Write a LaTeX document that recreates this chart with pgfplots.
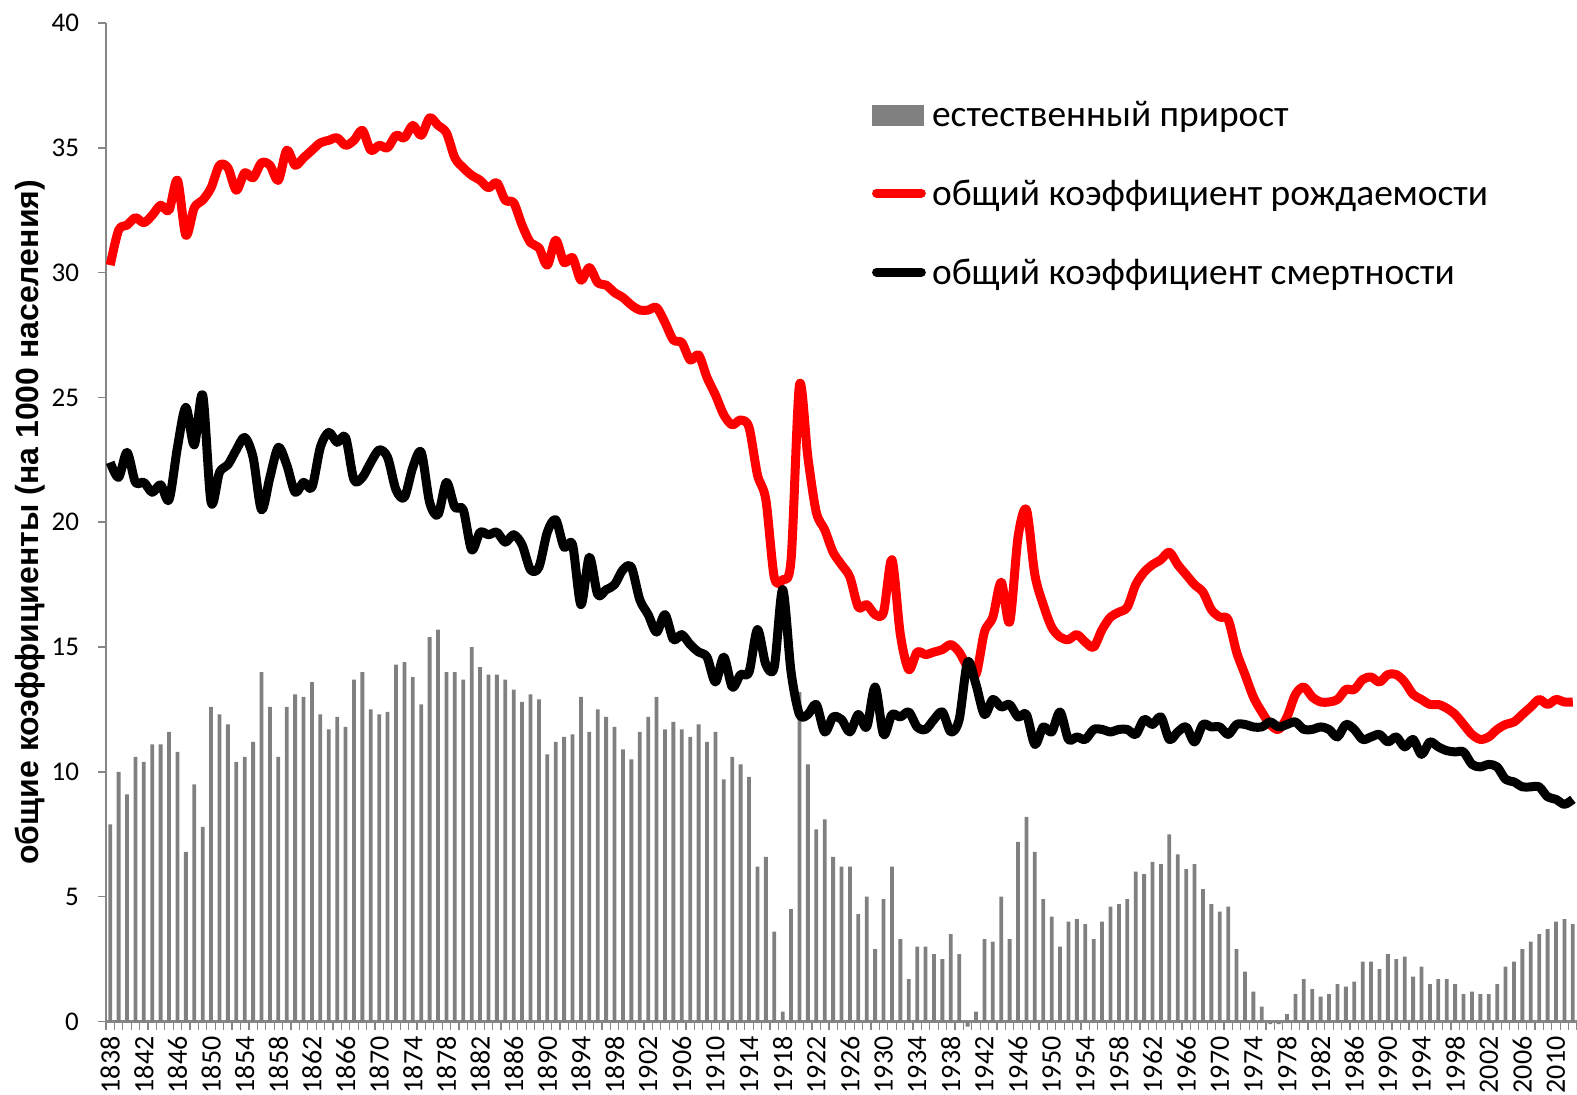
\documentclass[border=0pt]{standalone}
\usepackage{fontspec}
\setmainfont{Carlito}
\newfontfamily\labelfont{Liberation Sans}
\usepackage{pgfplots}
\usepackage{pgfplotstable}
\pgfplotsset{compat=1.18}
\definecolor{bargray}{HTML}{808080}
\definecolor{axgray}{HTML}{868686}
\pgfplotstableread{
year ni br dr
1838 7.9 30.3 22.4
1839 10.0 31.7 21.8
1840 9.1 31.9 22.8
1841 10.6 32.2 21.6
1842 10.4 32.0 21.6
1843 11.1 32.3 21.2
1844 11.1 32.7 21.5
1845 11.6 32.5 20.9
1846 10.8 33.7 23.0
1847 6.8 31.5 24.6
1848 9.5 32.6 23.1
1849 7.8 32.9 25.1
1850 12.6 33.4 20.8
1851 12.3 34.3 22.0
1852 11.9 34.2 22.3
1853 10.4 33.3 22.9
1854 10.6 34.0 23.4
1855 11.2 33.8 22.6
1856 14.0 34.4 20.5
1857 12.6 34.3 21.8
1858 10.6 33.7 23.0
1859 12.6 34.9 22.3
1860 13.1 34.3 21.2
1861 13.0 34.6 21.6
1862 13.6 34.9 21.4
1863 12.3 35.2 23.0
1864 11.7 35.3 23.6
1865 12.2 35.4 23.2
1866 11.8 35.1 23.4
1867 13.7 35.3 21.7
1868 14.0 35.7 21.8
1869 12.5 34.9 22.4
1870 12.3 35.1 22.9
1871 12.4 35.0 22.6
1872 14.3 35.5 21.3
1873 14.4 35.4 21.0
1874 13.8 35.9 22.2
1875 12.7 35.5 22.8
1876 15.4 36.2 20.8
1877 15.7 35.9 20.3
1878 14.0 35.6 21.6
1879 14.0 34.6 20.6
1880 13.7 34.2 20.5
1881 15.0 33.9 18.9
1882 14.2 33.7 19.6
1883 13.9 33.4 19.5
1884 13.9 33.6 19.6
1885 13.7 32.9 19.2
1886 13.3 32.8 19.5
1887 12.8 31.9 19.1
1888 13.1 31.2 18.1
1889 12.9 31.0 18.2
1890 10.7 30.3 19.6
1891 11.2 31.3 20.1
1892 11.4 30.4 19.0
1893 11.5 30.6 19.1
1894 13.0 29.7 16.7
1895 11.6 30.2 18.6
1896 12.5 29.6 17.1
1897 12.2 29.5 17.3
1898 11.8 29.2 17.5
1899 10.9 29.0 18.1
1900 10.5 28.7 18.2
1901 11.6 28.5 16.9
1902 12.2 28.5 16.3
1903 13.0 28.6 15.6
1904 11.7 28.0 16.3
1905 12.0 27.3 15.3
1906 11.7 27.2 15.5
1907 11.4 26.5 15.1
1908 11.9 26.7 14.8
1909 11.2 25.8 14.6
1910 11.6 25.1 13.6
1911 9.7 24.3 14.6
1912 10.6 23.9 13.4
1913 10.3 24.1 13.9
1914 9.8 23.8 14.0
1915 6.2 21.9 15.7
1916 6.6 20.9 14.3
1917 3.6 17.8 14.2
1918 0.4 17.7 17.3
1919 4.5 18.5 14.0
1920 13.2 25.5 12.3
1921 10.3 22.6 12.3
1922 7.7 20.4 12.7
1923 8.1 19.7 11.6
1924 6.6 18.8 12.2
1925 6.2 18.3 12.1
1926 6.2 17.8 11.6
1927 4.3 16.6 12.3
1928 5.0 16.7 11.8
1929 2.9 16.3 13.4
1930 4.9 16.4 11.5
1931 6.2 18.5 12.3
1932 3.3 15.5 12.2
1933 1.7 14.1 12.4
1934 3.0 14.8 11.8
1935 3.0 14.7 11.7
1936 2.7 14.8 12.1
1937 2.5 14.9 12.4
1938 3.5 15.1 11.6
1939 2.7 14.8 12.1
1940 -0.2 14.2 14.4
1941 0.4 13.9 13.5
1942 3.3 15.6 12.3
1943 3.2 16.2 12.9
1944 5.0 17.6 12.6
1945 3.3 16.0 12.7
1946 7.2 19.4 12.2
1947 8.2 20.5 12.3
1948 6.8 17.9 11.1
1949 4.9 16.7 11.8
1950 4.2 15.8 11.6
1951 3.0 15.4 12.4
1952 4.0 15.3 11.3
1953 4.1 15.5 11.4
1954 3.9 15.2 11.3
1955 3.3 15.0 11.7
1956 4.0 15.7 11.7
1957 4.6 16.2 11.6
1958 4.7 16.4 11.7
1959 4.9 16.6 11.7
1960 6.0 17.5 11.5
1961 5.9 18.0 12.1
1962 6.4 18.3 11.9
1963 6.3 18.5 12.2
1964 7.5 18.8 11.3
1965 6.7 18.3 11.6
1966 6.1 17.9 11.8
1967 6.3 17.5 11.2
1968 5.3 17.2 11.9
1969 4.7 16.5 11.8
1970 4.4 16.2 11.8
1971 4.6 16.1 11.5
1972 2.9 14.8 11.9
1973 2.0 13.9 11.9
1974 1.2 13.0 11.8
1975 0.6 12.4 11.8
1976 -0.1 11.9 12.0
1977 -0.1 11.7 11.8
1978 0.3 12.2 11.9
1979 1.1 13.1 12.0
1980 1.7 13.4 11.7
1981 1.3 13.0 11.7
1982 1.0 12.8 11.8
1983 1.1 12.8 11.7
1984 1.5 12.9 11.4
1985 1.4 13.3 11.9
1986 1.6 13.3 11.7
1987 2.4 13.7 11.3
1988 2.4 13.8 11.4
1989 2.1 13.6 11.5
1990 2.7 13.9 11.2
1991 2.5 13.9 11.4
1992 2.6 13.6 11.0
1993 1.8 13.1 11.3
1994 2.2 12.9 10.7
1995 1.5 12.7 11.2
1996 1.7 12.7 11.0
1997 1.7 12.55 10.85
1998 1.5 12.3 10.8
1999 1.1 11.9 10.8
2000 1.2 11.5 10.3
2001 1.1 11.3 10.2
2002 1.1 11.4 10.3
2003 1.5 11.7 10.2
2004 2.2 11.9 9.7
2005 2.4 12.0 9.6
2006 2.9 12.3 9.4
2007 3.2 12.6 9.4
2008 3.5 12.9 9.4
2009 3.7 12.7 9.0
2010 4.0 12.9 8.9
2011 4.1 12.8 8.7
2012 3.9 12.8 8.9
}\data
\begin{document}
\begin{tikzpicture}
\begin{axis}[
  at={(53pt,36.25pt)}, anchor=south west,
  scale only axis, width=735.5pt, height=499.25pt,
  xmin=1837.5, xmax=2012.5, ymin=0, ymax=40,
  clip=false,
  axis x line*=bottom, axis y line*=left,
  axis line style={axgray, line width=1.2pt, -},
  ytick={0,5,...,40},
  xtick={1838,1842,...,2010},
  minor xtick={1837.5,1838.5,...,2012.5},
  major x tick style={draw=none},
  minor x tick style={axgray, line width=0.6pt},
  major y tick style={axgray, line width=0.8pt},
  tick align=outside,
  major tick length=4pt, minor tick length=4pt,
  /pgf/number format/assume math mode=true,
  /pgf/number format/1000 sep={},
  yticklabel style={font=\fontsize{13.5}{15}\selectfont, xshift=-6pt},
  xticklabel style={font=\fontsize{14}{15}\selectfont, rotate=90, anchor=east},
  ylabel={общие коэффициенты (на 1000 населения)},
  ylabel style={font=\labelfont\bfseries\fontsize{16}{18}\selectfont, at={(axis description cs:-0.0517,0.5)}, anchor=center},
  legend style={draw=none, fill=none, inner sep=0pt,
    at={(axis description cs:0.5205,0.9242)}, anchor=north west,
    font=\fontsize{18.7}{20}\selectfont, row sep=21.5pt,
    nodes={anchor=base west, inner sep=0pt, text height=13.5pt, text depth=4.5pt}},
]
\addplot[ybar, bar width=1.9pt, fill=bargray, draw=none,
  legend image code/.code={\fill[bargray] (0pt,0pt) rectangle (26pt,10.3pt); \path (27.6pt,0pt);}]
  table[x=year, y=ni] {\data};
\addlegendentry{естественный прирост}
\addplot[red, line width=4.5pt, smooth, line join=round, no marks,
  legend image code/.code={\draw[red, line width=4.5pt, line cap=round] (2.1pt,6pt) -- (24.5pt,6pt); \path (27.6pt,0pt);}]
  table[x=year, y=br] {\data};
\addlegendentry{общий коэффициент рождаемости}
\addplot[black, line width=4.5pt, smooth, line join=round, no marks,
  legend image code/.code={\draw[black, line width=4.5pt, line cap=round] (2.1pt,6pt) -- (24.5pt,6pt); \path (27.6pt,0pt);}]
  table[x=year, y=dr] {\data};
\addlegendentry{общий коэффициент смертности}
\end{axis}
\pgfresetboundingbox
\path[use as bounding box] (0,0) rectangle (788.5pt,547pt);
\end{tikzpicture}
\end{document}
